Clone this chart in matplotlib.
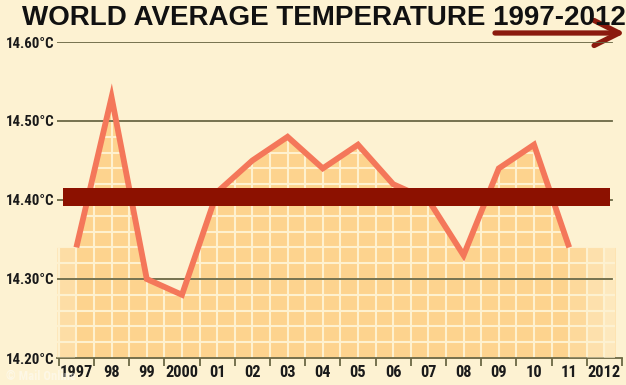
import numpy as np
import matplotlib.pyplot as plt
from matplotlib import font_manager

# data
years = [1997, 1998, 1999, 2000, 2001, 2002, 2003, 2004, 2005, 2006,
         2007, 2008, 2009, 2010, 2011]
temps = [14.34, 14.53, 14.30, 14.28, 14.41, 14.45, 14.48, 14.44, 14.47, 14.42,
         14.40, 14.33, 14.44, 14.47, 14.34]
year_labels = ['1997', '98', '99', '2000', '01', '02', '03', '04', '05', '06',
               '07', '08', '09', '10', '11', '2012']
label_years = list(range(1997, 2013))
y_ticks = [14.20, 14.30, 14.40, 14.50, 14.60]
average = 14.404

BG = '#fdf2d2'
FILL = '#fdd38e'
GRIDC = '#fef1cf'
LINE = '#f4775a'
BAR = '#8c1100'
RULE = '#6b6845'

# pick a narrow face for the axis labels if one is installed
fonts = font_manager.fontManager.ttflist
names = {f.name for f in fonts}
stretch = 'normal'
narrow = 'Liberation Sans'
for n in ['Liberation Sans Narrow', 'Roboto Condensed', 'Open Sans Condensed']:
    if n in names:
        narrow = n
        break
else:
    if any(f.name == 'DejaVu Sans' and f.stretch == 'condensed' for f in fonts):
        narrow, stretch = 'DejaVu Sans', 'condensed'

plt.rcParams['font.family'] = [narrow, 'DejaVu Sans']
plt.rcParams['font.stretch'] = stretch

W, H = 626, 385
fig = plt.figure(figsize=(W / 100, H / 100), dpi=100, facecolor=BG)
renderer = fig.canvas.get_renderer()


def size_for(s, target_px, **kw):
    t = fig.text(0, 0, s, fontsize=10, **kw)
    w = t.get_window_extent(renderer).width
    t.remove()
    return 10 * target_px / w


ax = fig.add_axes([57 / W, (H - 358) / H, 565 / W, 316 / H])
ax.set_facecolor(BG)
ax.set_xlim(1996.45, 2012.5)
ax.set_ylim(14.20, 14.60)

# shaded area under the line, extended flat at both ends
fx = [1996.45] + years + [2012.3]
fy = [temps[0]] + temps + [temps[-1]]
poly = ax.fill_between(fx, 14.20, fy, color=FILL, lw=0, zorder=1)
clip = poly.get_paths()[0]

# light grid inside the shaded area
for gx in np.arange(1996.5, 2012.6, 0.5):
    l = ax.axvline(gx, color=GRIDC, lw=1.5, zorder=2)
    l.set_clip_path(clip, ax.transData)
for gy in np.arange(14.22, 14.60, 0.02):
    l = ax.axhline(gy, color=GRIDC, lw=1.5, zorder=2)
    l.set_clip_path(clip, ax.transData)

# fade the two ends
ax.axvspan(1996.45, 1996.95, color=BG, alpha=0.35, lw=0, zorder=3)
ax.axvspan(2011.0, 2011.5, color=BG, alpha=0.2, lw=0, zorder=3)
ax.axvspan(2011.5, 2012.0, color=BG, alpha=0.45, lw=0, zorder=3)
ax.axvspan(2012.0, 2012.3, color=BG, alpha=0.7, lw=0, zorder=3)

# horizontal rules
for t in y_ticks[1:]:
    ax.axhline(t, xmax=(612 - 57) / 565, color=RULE, lw=1.3, zorder=4)

ax.plot(years, temps, color=LINE, lw=4.2, solid_joinstyle='miter',
        solid_capstyle='butt', zorder=5)

# average bar
ax.axhspan(average - 0.0113, average + 0.0113, xmin=(63 - 57) / 565,
           xmax=(610 - 57) / 565, color=BAR, lw=0, zorder=6)

for s in ['top', 'left', 'right']:
    ax.spines[s].set_visible(False)
ax.spines['bottom'].set_color(RULE)
ax.spines['bottom'].set_linewidth(1.3)

ysize = min(size_for('14.60°C', 49, fontweight='bold'), 12.5)
xsize = min(size_for('2000', 33, fontweight='bold'), 13.5)

ax.set_yticks(y_ticks)
ax.set_yticklabels(['%.2f°C' % t for t in y_ticks])
ax.tick_params(axis='y', length=0, pad=2, labelsize=ysize, labelcolor='#1a1a1a')

ax.set_xticks(label_years)
ax.set_xticklabels(year_labels)
ax.set_xticks(np.arange(1996.5, 2012.6, 1.0), minor=True)
ax.tick_params(axis='x', which='major', length=0, pad=5, labelsize=xsize,
               labelcolor='#1a1a1a')
ax.tick_params(axis='x', which='minor', length=6, width=1.3, color=RULE,
               direction='out')
for lab in ax.get_xticklabels() + ax.get_yticklabels():
    lab.set_fontweight('bold')

fig.text(22 / W, (H - 25) / H, 'WORLD AVERAGE TEMPERATURE 1997-2012',
         family=['Liberation Sans', 'DejaVu Sans'], fontstretch='normal',
         fontsize=20, fontweight='bold', color='#111111',
         va='baseline', ha='left')

ax.annotate('', xy=(625, H - 33), xytext=(495, H - 33),
            xycoords='figure pixels', textcoords='figure pixels',
            arrowprops=dict(arrowstyle='->,head_length=0.9,head_width=0.45',
                            color='#8b1a0e', lw=3.8, mutation_scale=20,
                            shrinkA=0, shrinkB=0))

fig.text(6 / W, 5 / H, '© Mail Online', color='white', alpha=0.45,
         fontsize=9, fontweight='bold')

fig.savefig('out.png', dpi=100, facecolor=BG)
